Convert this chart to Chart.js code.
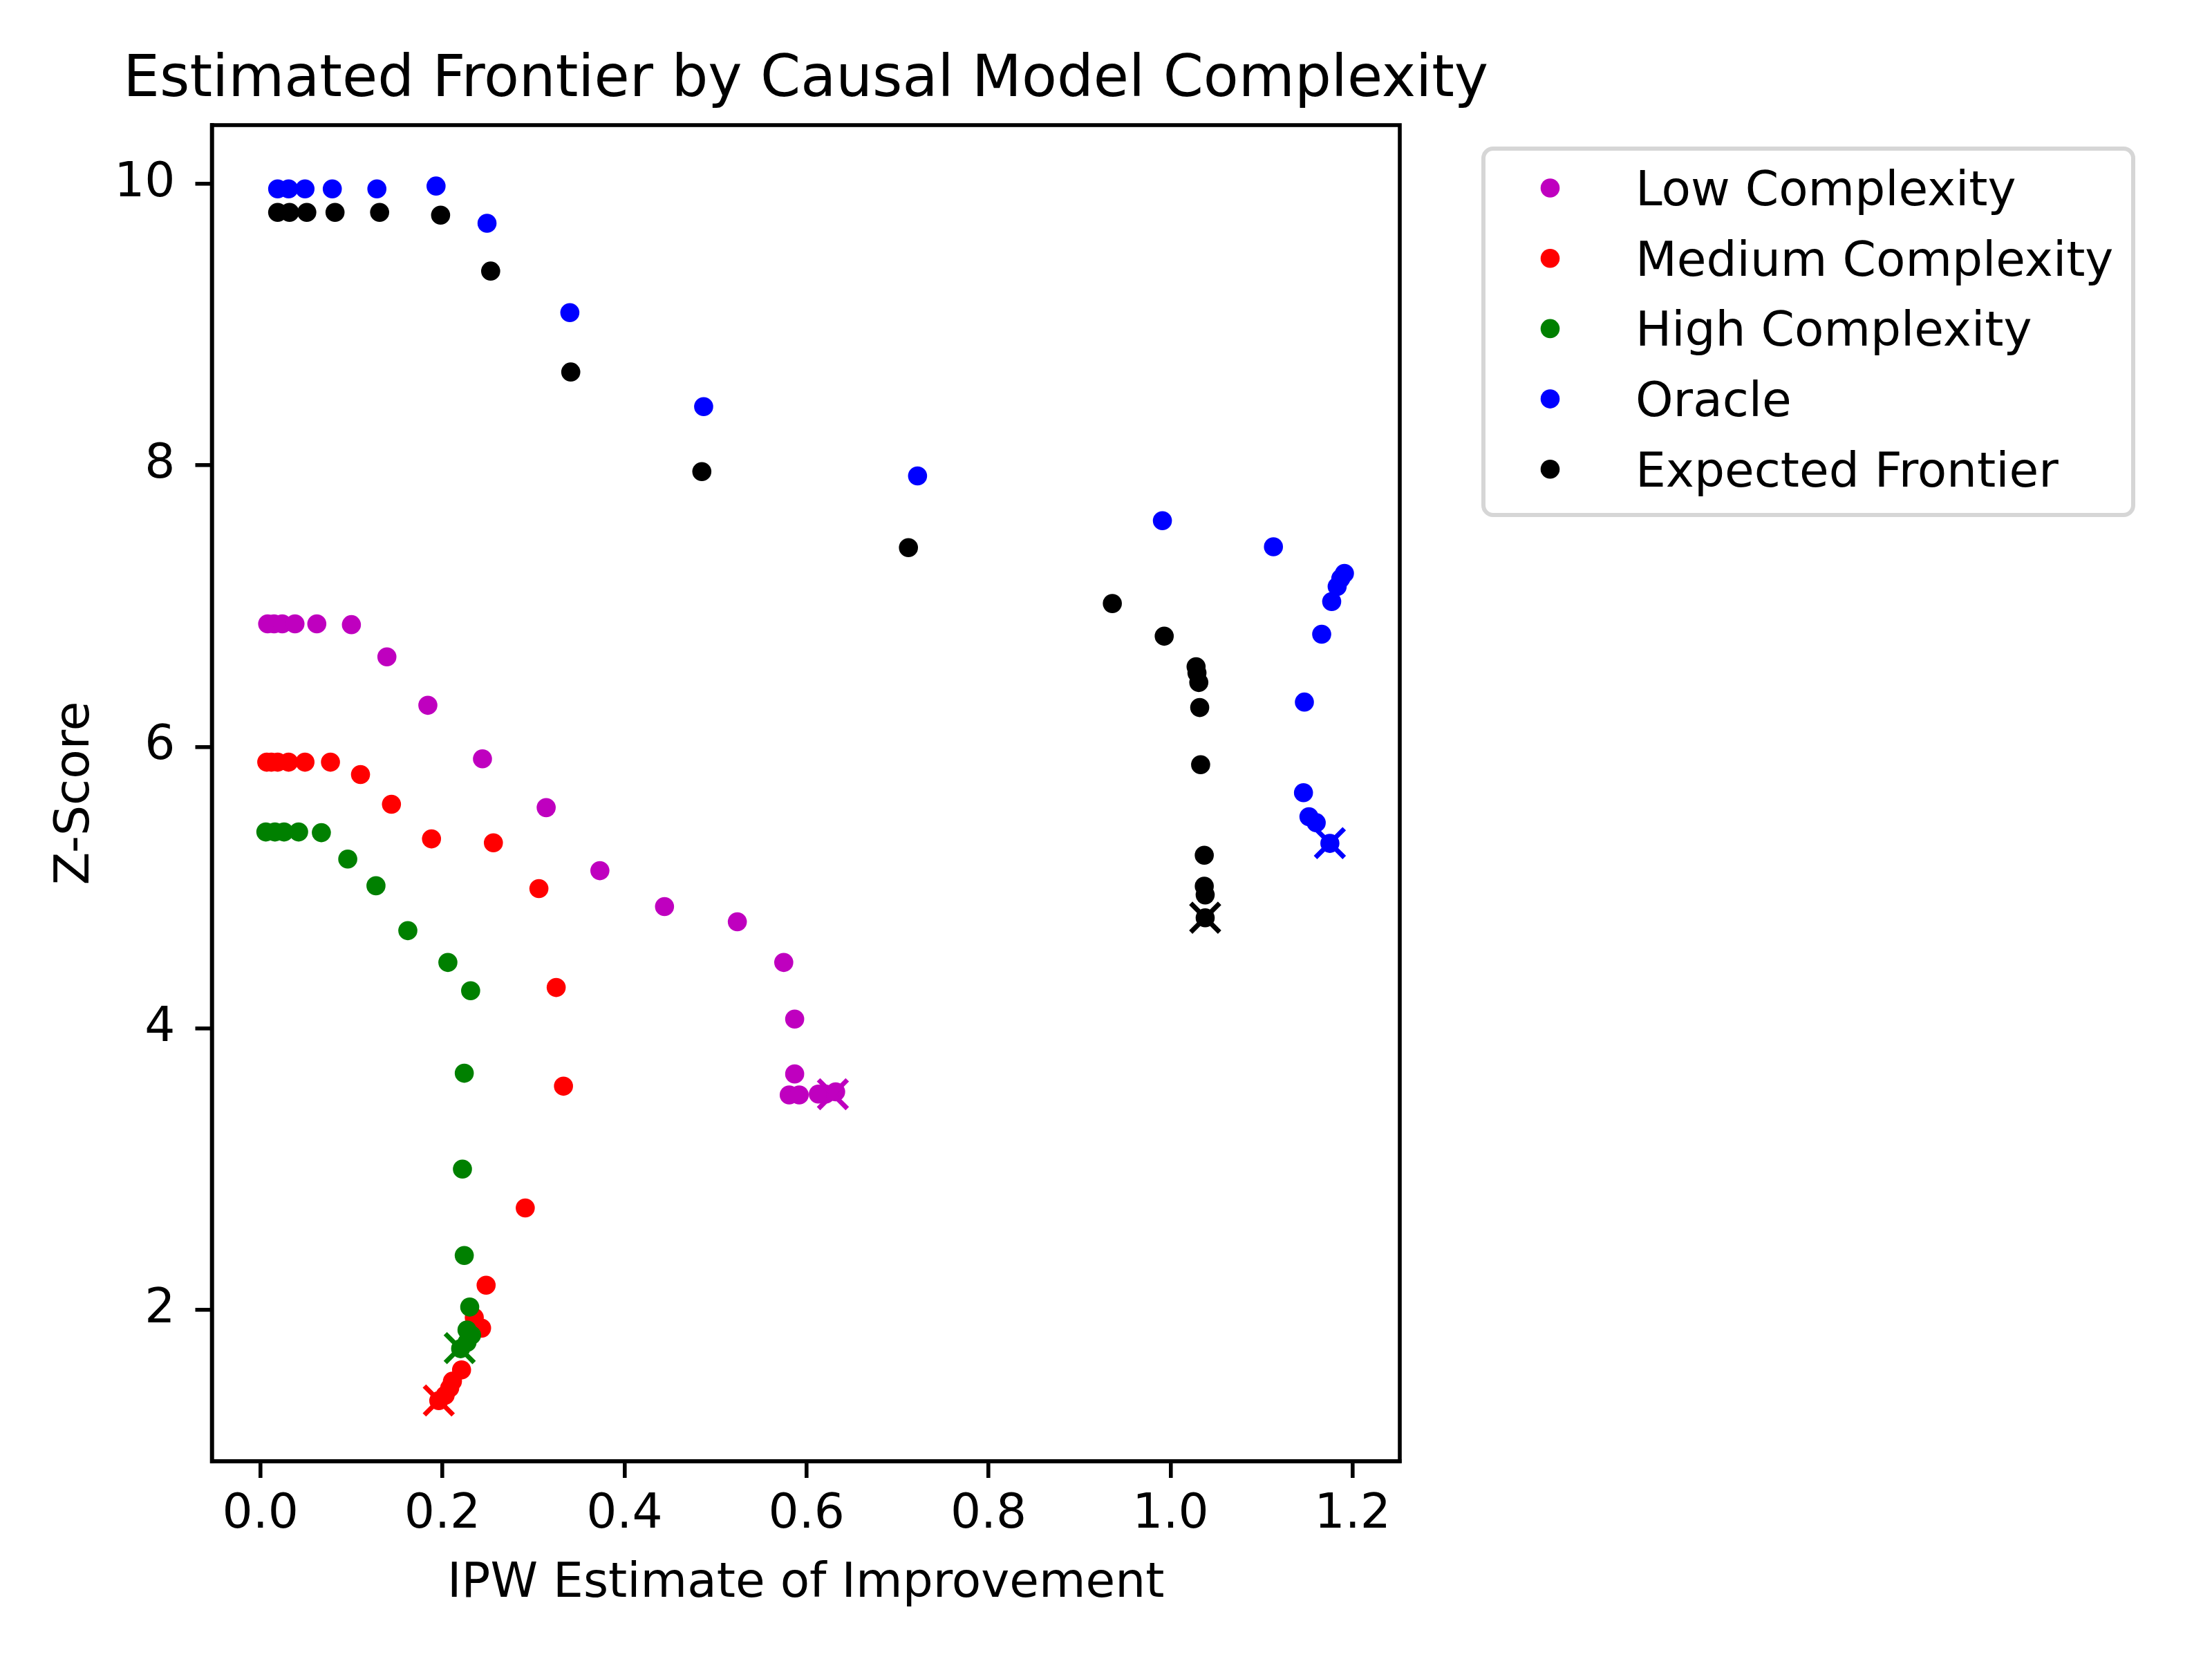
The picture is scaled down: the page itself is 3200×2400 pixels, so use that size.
<!DOCTYPE html>
<html>
<head>
<meta charset="utf-8">
<title>Estimated Frontier by Causal Model Complexity</title>
<script src="https://cdn.jsdelivr.net/npm/chart.js@4.4.0/dist/chart.umd.min.js"></script>
<style>
  html, body { margin: 0; padding: 0; background: #fff; }
  canvas { display: block; }
</style>
</head>
<body>
<canvas id="frontier" width="3200" height="2400"></canvas>
<script>
//Data
var seriesNames = ['Low Complexity', 'Medium Complexity', 'High Complexity', 'Oracle', 'Expected Frontier'];
var seriesColors = ['#bf00bf', '#ff0000', '#008000', '#0000ff', '#000000'];

var lowX = [0.008, 0.015, 0.024, 0.038, 0.062, 0.100, 0.139, 0.184, 0.244, 0.314, 0.373, 0.444, 0.524, 0.575, 0.587, 0.587, 0.581, 0.592, 0.613, 0.621, 0.632];
var lowY = [6.874, 6.874, 6.874, 6.874, 6.874, 6.868, 6.639, 6.295, 5.915, 5.568, 5.120, 4.865, 4.757, 4.468, 4.066, 3.676, 3.527, 3.527, 3.533, 3.533, 3.549];

var medX = [0.007, 0.012, 0.019, 0.031, 0.049, 0.077, 0.110, 0.144, 0.188, 0.256, 0.306, 0.325, 0.333, 0.291, 0.248, 0.235, 0.243, 0.221, 0.211, 0.208, 0.203, 0.196];
var medY = [5.891, 5.891, 5.891, 5.891, 5.891, 5.891, 5.803, 5.592, 5.346, 5.318, 4.993, 4.290, 3.589, 2.724, 2.175, 1.945, 1.870, 1.573, 1.493, 1.444, 1.393, 1.355];

var highX = [0.006, 0.016, 0.026, 0.042, 0.067, 0.096, 0.127, 0.162, 0.206, 0.231, 0.224, 0.222, 0.224, 0.230, 0.227, 0.232, 0.227, 0.220];
var highY = [5.395, 5.395, 5.395, 5.395, 5.390, 5.203, 5.013, 4.694, 4.468, 4.267, 3.681, 3.000, 2.386, 2.020, 1.857, 1.820, 1.769, 1.724];

var oracleX = [0.019, 0.031, 0.049, 0.079, 0.128, 0.193, 0.249, 0.340, 0.487, 0.722, 0.991, 1.113, 1.191, 1.187, 1.183, 1.177, 1.166, 1.147, 1.146, 1.152, 1.160, 1.175];
var oracleY = [9.964, 9.964, 9.964, 9.964, 9.964, 9.984, 9.720, 9.085, 8.417, 7.925, 7.607, 7.421, 7.232, 7.196, 7.139, 7.032, 6.800, 6.318, 5.674, 5.503, 5.461, 5.314];

var expX = [0.019, 0.032, 0.051, 0.082, 0.131, 0.198, 0.253, 0.341, 0.485, 0.712, 0.936, 0.993, 1.028, 1.029, 1.031, 1.032, 1.033, 1.037, 1.037, 1.038, 1.038];
var expY = [9.797, 9.797, 9.797, 9.797, 9.797, 9.777, 9.380, 8.663, 7.955, 7.415, 7.018, 6.786, 6.569, 6.525, 6.457, 6.279, 5.873, 5.230, 5.010, 4.948, 4.785];

//Chosen point of each frontier (drawn as an x)
var chosenX = [0.629, 0.196, 0.219, 1.175, 1.038];
var chosenY = [3.532, 1.356, 1.728, 5.316, 4.786];

var xTicks = [0, 0.2, 0.4, 0.6, 0.8, 1.0, 1.2];
var yTicks = [2, 4, 6, 8, 10];

//Chart Stuff
var fontFamily = '"DejaVu Sans", "Liberation Sans", sans-serif';
var tickFont = 69.4;
var titleFont = 83.3;
var spineWidth = 5.6;
var dotRadius = 13.8;

function toPoints(xs, ys) {
  var pts = [];
  for (var i = 0; i < xs.length; i++) {
    pts.push({ x: xs[i], y: ys[i] });
  }
  return pts;
}

var allSeries = [
  [lowX, lowY],
  [medX, medY],
  [highX, highY],
  [oracleX, oracleY],
  [expX, expY]
];

var datasets = [];
for (var i = 0; i < allSeries.length; i++) {
  datasets.push({
    label: seriesNames[i],
    data: toPoints(allSeries[i][0], allSeries[i][1]),
    backgroundColor: seriesColors[i],
    borderColor: seriesColors[i],
    pointRadius: dotRadius,
    pointBorderWidth: 0,
    pointHoverRadius: dotRadius,
    order: 20 - i
  });
}
for (var j = 0; j < chosenX.length; j++) {
  datasets.push({
    label: seriesNames[j] + ' chosen',
    data: [{ x: chosenX[j], y: chosenY[j] }],
    pointStyle: 'crossRot',
    pointRadius: 29.5,
    pointBorderWidth: 6.9,
    borderColor: seriesColors[j],
    backgroundColor: seriesColors[j],
    order: 10 - j
  });
}

//Title, spines and the outside legend
var decorations = {
  id: 'decorations',
  afterDraw: function(chart) {
    var ctx = chart.ctx;
    var area = chart.chartArea;
    ctx.save();

    ctx.strokeStyle = '#000';
    ctx.lineWidth = spineWidth;
    ctx.strokeRect(area.left, area.top, area.right - area.left, area.bottom - area.top);

    ctx.fillStyle = '#000';
    ctx.font = titleFont + 'px ' + fontFamily;
    ctx.textAlign = 'center';
    ctx.textBaseline = 'alphabetic';
    ctx.fillText('Estimated Frontier by Causal Model Complexity', (area.left + area.right) / 2, 139);

    //legend frame
    var lx = 2146, ly = 215, lw = 940, lh = 530, r = 14;
    ctx.beginPath();
    ctx.moveTo(lx + r, ly);
    ctx.arcTo(lx + lw, ly, lx + lw, ly + lh, r);
    ctx.arcTo(lx + lw, ly + lh, lx, ly + lh, r);
    ctx.arcTo(lx, ly + lh, lx, ly, r);
    ctx.arcTo(lx, ly, lx + lw, ly, r);
    ctx.closePath();
    ctx.fillStyle = 'rgba(255,255,255,0.8)';
    ctx.fill();
    ctx.strokeStyle = '#d6d6d6';
    ctx.lineWidth = 6;
    ctx.stroke();

    ctx.font = tickFont + 'px ' + fontFamily;
    ctx.textAlign = 'left';
    for (var k = 0; k < seriesNames.length; k++) {
      var rowY = 272 + k * 101.7;
      ctx.fillStyle = seriesColors[k];
      ctx.beginPath();
      ctx.arc(2242.5, rowY, dotRadius, 0, Math.PI * 2);
      ctx.fill();
      ctx.fillStyle = '#000';
      ctx.fillText(seriesNames[k], 2366, 297 + k * 101.7);
    }
    ctx.restore();
  }
};

Chart.defaults.color = '#000';
Chart.defaults.font.family = fontFamily;

var ctx = document.getElementById('frontier').getContext('2d');
var frontierChart = new Chart(ctx, {
  type: 'scatter',
  data: { datasets: datasets },
  options: {
    responsive: false,
    animation: false,
    devicePixelRatio: 1,
    layout: { padding: { left: 0, right: 1175, top: 181, bottom: 0 } },
    plugins: {
      legend: { display: false },
      title: { display: false },
      tooltip: { enabled: false }
    },
    scales: {
      x: {
        type: 'linear',
        min: -0.0533,
        max: 1.2518,
        afterBuildTicks: function(scale) {
          scale.ticks = xTicks.map(function(v) { return { value: v }; });
        },
        afterFit: function(scale) { scale.height = 286; },
        grid: { drawOnChartArea: false, drawTicks: true, tickLength: 24, color: '#000', lineWidth: spineWidth },
        border: { display: true, color: '#000', width: spineWidth },
        ticks: {
          autoSkip: false,
          maxRotation: 0,
          padding: 12,
          font: { size: tickFont },
          callback: function(v) { return v.toFixed(1); }
        },
        title: {
          display: true,
          text: 'IPW Estimate of Improvement',
          font: { size: tickFont },
          padding: { top: 0, bottom: 66 }
        }
      },
      y: {
        type: 'linear',
        min: 0.924,
        max: 10.417,
        afterBuildTicks: function(scale) {
          scale.ticks = yTicks.map(function(v) { return { value: v }; });
        },
        afterFit: function(scale) { scale.width = 306.5; },
        grid: { drawOnChartArea: false, drawTicks: true, tickLength: 24, color: '#000', lineWidth: spineWidth },
        border: { display: true, color: '#000', width: spineWidth },
        ticks: {
          autoSkip: false,
          padding: 29,
          font: { size: tickFont },
          callback: function(v) { return String(v); }
        },
        title: {
          display: true,
          text: 'Z-Score',
          font: { size: tickFont },
          padding: { top: 68, bottom: 0 }
        }
      }
    }
  },
  plugins: [decorations]
});
</script>
</body>
</html>
